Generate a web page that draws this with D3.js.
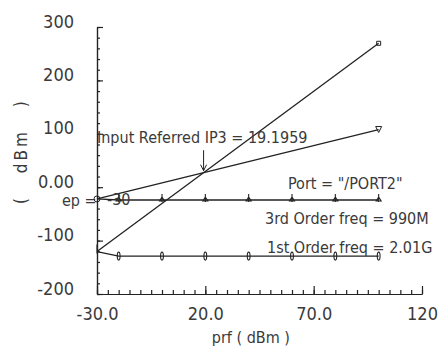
<!DOCTYPE html>
<html>
<head>
<meta charset="utf-8">
<script src="https://cdn.jsdelivr.net/npm/d3@7"></script>
<style>
  body { margin: 0; background: #fff; }
  text { font-family: "DejaVu Sans Condensed", "DejaVu Sans", sans-serif; font-stretch: condensed; fill: #3a3a3a; }
  .axis path, .axis line { stroke: #222; stroke-width: 1.2; }
</style>
</head>
<body>
<div id="chart"></div>
<script>
// Chart data
var prf = [-30, -20, 0, 20, 40, 60, 80, 100];
var firstOrder = [-22, -24, -24, -24, -24, -24, -24, -24];
var thirdOrder = [-120.5, -129, -129, -129, -129, -129, -129, -129];

// extrapolation lines from the ep point
var epPrf = [-30, 100];
var firstExtrap = [-22, 108];
var thirdExtrap = [-120.5, 269.5];

var ip3 = 19.1959;

var xTicks = [-30, 20, 70, 120];
var xTickLabels = ["-30.0", "20.0", "70.0", "120"];
var yTicks = [-200, -100, 0, 100, 200, 300];
var yTickLabels = ["-200", "-100", "0.00", "100", "200", "300"];

// SVG area
var svgWidth = 441;
var svgHeight = 356;

var chartMargin = {
  top: 27,
  right: 19,
  bottom: 62,
  left: 97
};

var chartWidth = svgWidth - chartMargin.left - chartMargin.right;
var chartHeight = svgHeight - chartMargin.top - chartMargin.bottom;

var svg = d3.select("#chart")
  .append("svg")
  .attr("width", svgWidth)
  .attr("height", svgHeight);

var chartGroup = svg.append("g")
  .attr("transform", `translate(${chartMargin.left}, ${chartMargin.top})`);

var xScale = d3.scaleLinear()
  .domain([-30, 120])
  .range([0, chartWidth]);

var yScale = d3.scaleLinear()
  .domain([-200, 300])
  .range([chartHeight, 0]);

// minor ticks
chartGroup.append("g")
  .attr("class", "axis")
  .attr("transform", `translate(0, ${chartHeight})`)
  .call(d3.axisBottom(xScale).tickValues(d3.range(-30, 121, 5)).tickSize(-4).tickSizeOuter(0).tickFormat(""));

chartGroup.append("g")
  .attr("class", "axis")
  .call(d3.axisLeft(yScale).tickValues(d3.range(-200, 301, 20)).tickSize(-3).tickSizeOuter(0).tickFormat(""));

// major ticks with labels
var xAxis = chartGroup.append("g")
  .attr("class", "axis")
  .attr("transform", `translate(0, ${chartHeight})`)
  .call(d3.axisBottom(xScale).tickValues(xTicks).tickSize(-8).tickSizeOuter(0)
    .tickFormat((d, i) => xTickLabels[i]));
xAxis.selectAll("text")
  .attr("y", 26)
  .attr("dy", 0)
  .attr("font-size", "18px");

var yAxis = chartGroup.append("g")
  .attr("class", "axis")
  .call(d3.axisLeft(yScale).tickValues(yTicks).tickSize(-6).tickSizeOuter(0)
    .tickFormat((d, i) => yTickLabels[i]));
yAxis.selectAll("text")
  .attr("x", -23)
  .attr("dy", 0)
  .attr("font-size", "18px");

chartGroup.selectAll(".axis text").style("fill", "#3a3a3a");

// axis titles
chartGroup.append("text")
  .attr("transform", "rotate(-90)")
  .attr("x", -(yScale(0) - 36))
  .attr("y", -70)
  .attr("text-anchor", "middle")
  .attr("font-size", "17px")
  .attr("letter-spacing", "3px")
  .attr("word-spacing", "14px")
  .text("( dBm )");

chartGroup.append("text")
  .attr("x", xScale(41))
  .attr("y", chartHeight + 49)
  .attr("text-anchor", "middle")
  .attr("font-size", "16px")
  .text("prf ( dBm )");

var line = d3.line()
  .x(d => xScale(d[0]))
  .y(d => yScale(d[1]));

function drawLine(xs, ys) {
  chartGroup.append("path")
    .datum(xs.map((v, i) => [v, ys[i]]))
    .attr("d", line)
    .attr("fill", "none")
    .attr("stroke", "#222")
    .attr("stroke-width", 1.3);
}

drawLine(epPrf, thirdExtrap);
drawLine(epPrf, firstExtrap);
drawLine(prf, firstOrder);
drawLine(prf, thirdOrder);

// markers on the first order curve: small triangle with stem
chartGroup.selectAll(".m1")
  .data(prf.slice(1))
  .enter()
  .append("path")
  .attr("class", "m1")
  .attr("transform", (d, i) => `translate(${xScale(d)}, ${yScale(firstOrder[i + 1])})`)
  .attr("d", "M0,-6V2M-2.5,1L0,-3L2.5,1Z")
  .attr("fill", "none")
  .attr("stroke", "#222")
  .attr("stroke-width", 1.1);

// markers on the third order curve: narrow ellipse
chartGroup.selectAll(".m3")
  .data(prf.slice(1))
  .enter()
  .append("ellipse")
  .attr("class", "m3")
  .attr("cx", d => xScale(d))
  .attr("cy", (d, i) => yScale(thirdOrder[i + 1]))
  .attr("rx", 1.4)
  .attr("ry", 4)
  .attr("fill", "none")
  .attr("stroke", "#222")
  .attr("stroke-width", 1.1);

// ep point
chartGroup.append("circle")
  .attr("cx", xScale(-30))
  .attr("cy", yScale(firstOrder[0]))
  .attr("r", 3)
  .attr("fill", "none")
  .attr("stroke", "#222");

chartGroup.append("path")
  .attr("transform", `translate(${xScale(-30)}, ${yScale(thirdOrder[0])})`)
  .attr("d", "M0,-7V2")
  .attr("stroke", "#222")
  .attr("stroke-width", 1.1);

// end markers of the extrapolation lines
chartGroup.append("path")
  .attr("transform", `translate(${xScale(100)}, ${yScale(firstExtrap[1])})`)
  .attr("d", "M-3,-3H3L0,3Z")
  .attr("fill", "none")
  .attr("stroke", "#222");

chartGroup.append("path")
  .attr("transform", `translate(${xScale(100)}, ${yScale(thirdExtrap[1])})`)
  .attr("d", "M-2,-2H2V2H-2Z")
  .attr("fill", "none")
  .attr("stroke", "#222");

// IP3 annotation with arrow
var ipY = yScale(firstExtrap[0] + (ip3 - epPrf[0]));
chartGroup.append("text")
  .attr("x", 0)
  .attr("y", yScale(0) - 44)
  .attr("font-size", "16px")
  .text("Input Referred IP3 = " + ip3);

chartGroup.append("path")
  .attr("d", `M${xScale(ip3)},${yScale(0) - 37}V${ipY - 2}M${xScale(ip3) - 3},${ipY - 8}L${xScale(ip3)},${ipY - 2}L${xScale(ip3) + 3},${ipY - 8}`)
  .attr("fill", "none")
  .attr("stroke", "#222")
  .attr("stroke-width", 1);

// ep label
chartGroup.append("text")
  .attr("x", -35)
  .attr("y", yScale(firstOrder[0]) + 7)
  .attr("font-size", "16px")
  .text("ep =");

chartGroup.append("text")
  .attr("x", 10)
  .attr("y", yScale(firstOrder[0]) + 6)
  .attr("font-size", "16px")
  .text("-30");

// right-hand notes
chartGroup.append("text")
  .attr("x", 191)
  .attr("y", yScale(0) + 2)
  .attr("font-size", "16px")
  .text("Port = \"/PORT2\"");

chartGroup.append("text")
  .attr("x", 168)
  .attr("y", yScale(0) + 37)
  .attr("font-size", "16px")
  .text("3rd Order freq = 990M");

chartGroup.append("text")
  .attr("x", 170)
  .attr("y", yScale(0) + 66)
  .attr("font-size", "16px")
  .text("1st Order freq = 2.01G");
</script>
</body>
</html>
